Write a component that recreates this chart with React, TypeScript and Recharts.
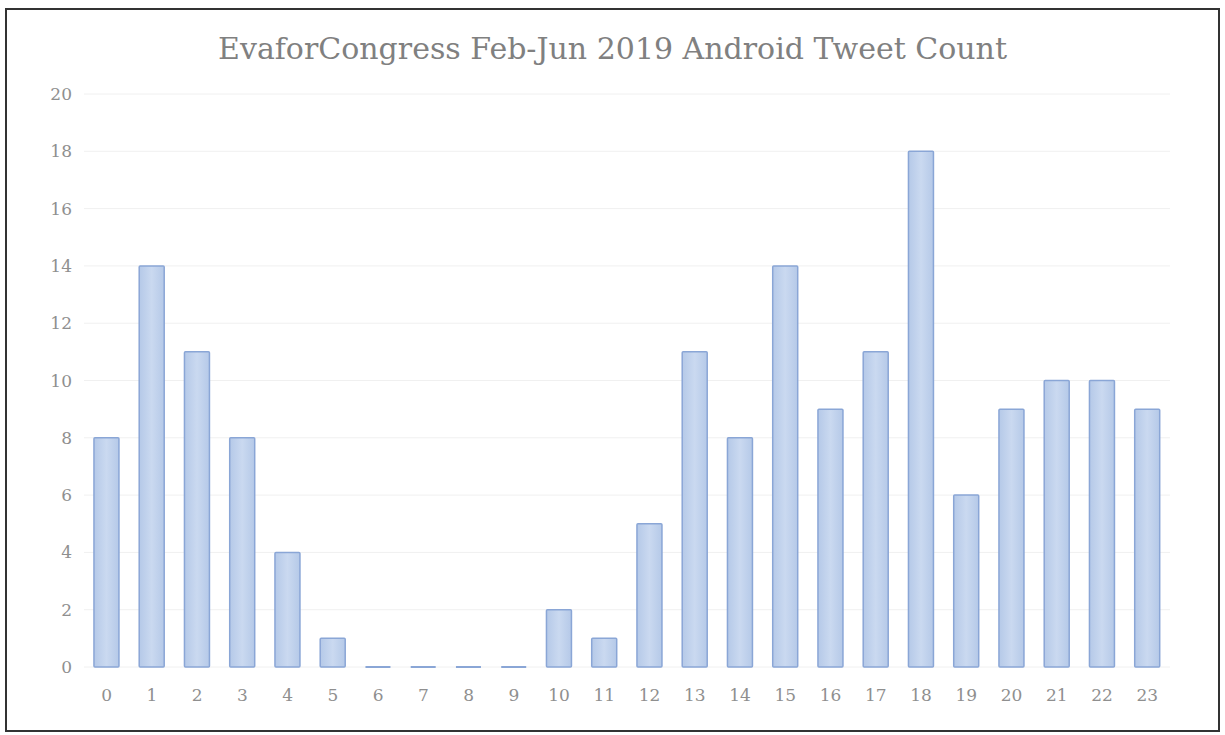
import React from 'react';
import { BarChart, Bar, XAxis, YAxis, CartesianGrid } from 'recharts';

const hours = ['0','1','2','3','4','5','6','7','8','9','10','11','12','13','14','15','16','17','18','19','20','21','22','23'];
const tweetCounts = [8, 14, 11, 8, 4, 1, 0, 0, 0, 0, 2, 1, 5, 11, 8, 14, 9, 11, 18, 6, 9, 10, 10, 9];
const yTicks = [0, 2, 4, 6, 8, 10, 12, 14, 16, 18, 20];
const title = 'EvaforCongress Feb-Jun 2019 Android Tweet Count';

const data = hours.map((h, i) => ({ hour: h, count: tweetCounts[i] }));

const FONT = '"DejaVu Serif", serif';

const BarShape = (props: any) => {
  const { x, y, width, height } = props;
  if (!height || height < 1) {
    return <line x1={x} x2={x + width} y1={y} y2={y} stroke="#8aa6d6" strokeWidth={2} />;
  }
  return (
    <rect x={x} y={y} width={width} height={height} fill="url(#barGrad)" stroke="#8aa6d6" strokeWidth={1.5} rx={1} />
  );
};

export default function App() {
  return (
    <div
      style={{
        position: 'absolute',
        left: 5,
        top: 8,
        width: 1211,
        height: 720,
        border: '2px solid #333',
        background: '#fff',
      }}
    >
      <div
        style={{
          position: 'absolute',
          left: 0,
          top: 21,
          width: 1211,
          textAlign: 'center',
          fontFamily: FONT,
          fontSize: 30,
          lineHeight: '36px',
          color: '#808080',
        }}
      >
        {title}
      </div>
      <BarChart
        width={1211}
        height={720}
        data={data}
        margin={{ top: 84, right: 48, bottom: 33, left: 0 }}
        barCategoryGap="22%"
      >
        <defs>
          <linearGradient id="barGrad" x1="0" y1="0" x2="1" y2="0">
            <stop offset="0%" stopColor="#b5c9e8" />
            <stop offset="50%" stopColor="#cad9f0" />
            <stop offset="100%" stopColor="#b5c9e8" />
          </linearGradient>
        </defs>
        <CartesianGrid vertical={false} stroke="#f0f0f0" />
        <XAxis
          dataKey="hour"
          height={30}
          axisLine={false}
          tickLine={false}
          tickSize={0}
          tickMargin={22}
          interval={0}
          tick={{ fontFamily: FONT, fontSize: 17, fill: '#8f8f8f' }}
        />
        <YAxis
          width={77}
          domain={[0, 20]}
          ticks={yTicks}
          axisLine={false}
          tickLine={false}
          tickSize={0}
          tickMargin={12}
          tick={{ fontFamily: FONT, fontSize: 17, fill: '#8f8f8f' }}
        />
        <Bar dataKey="count" shape={BarShape} isAnimationActive={false} />
      </BarChart>
    </div>
  );
}
